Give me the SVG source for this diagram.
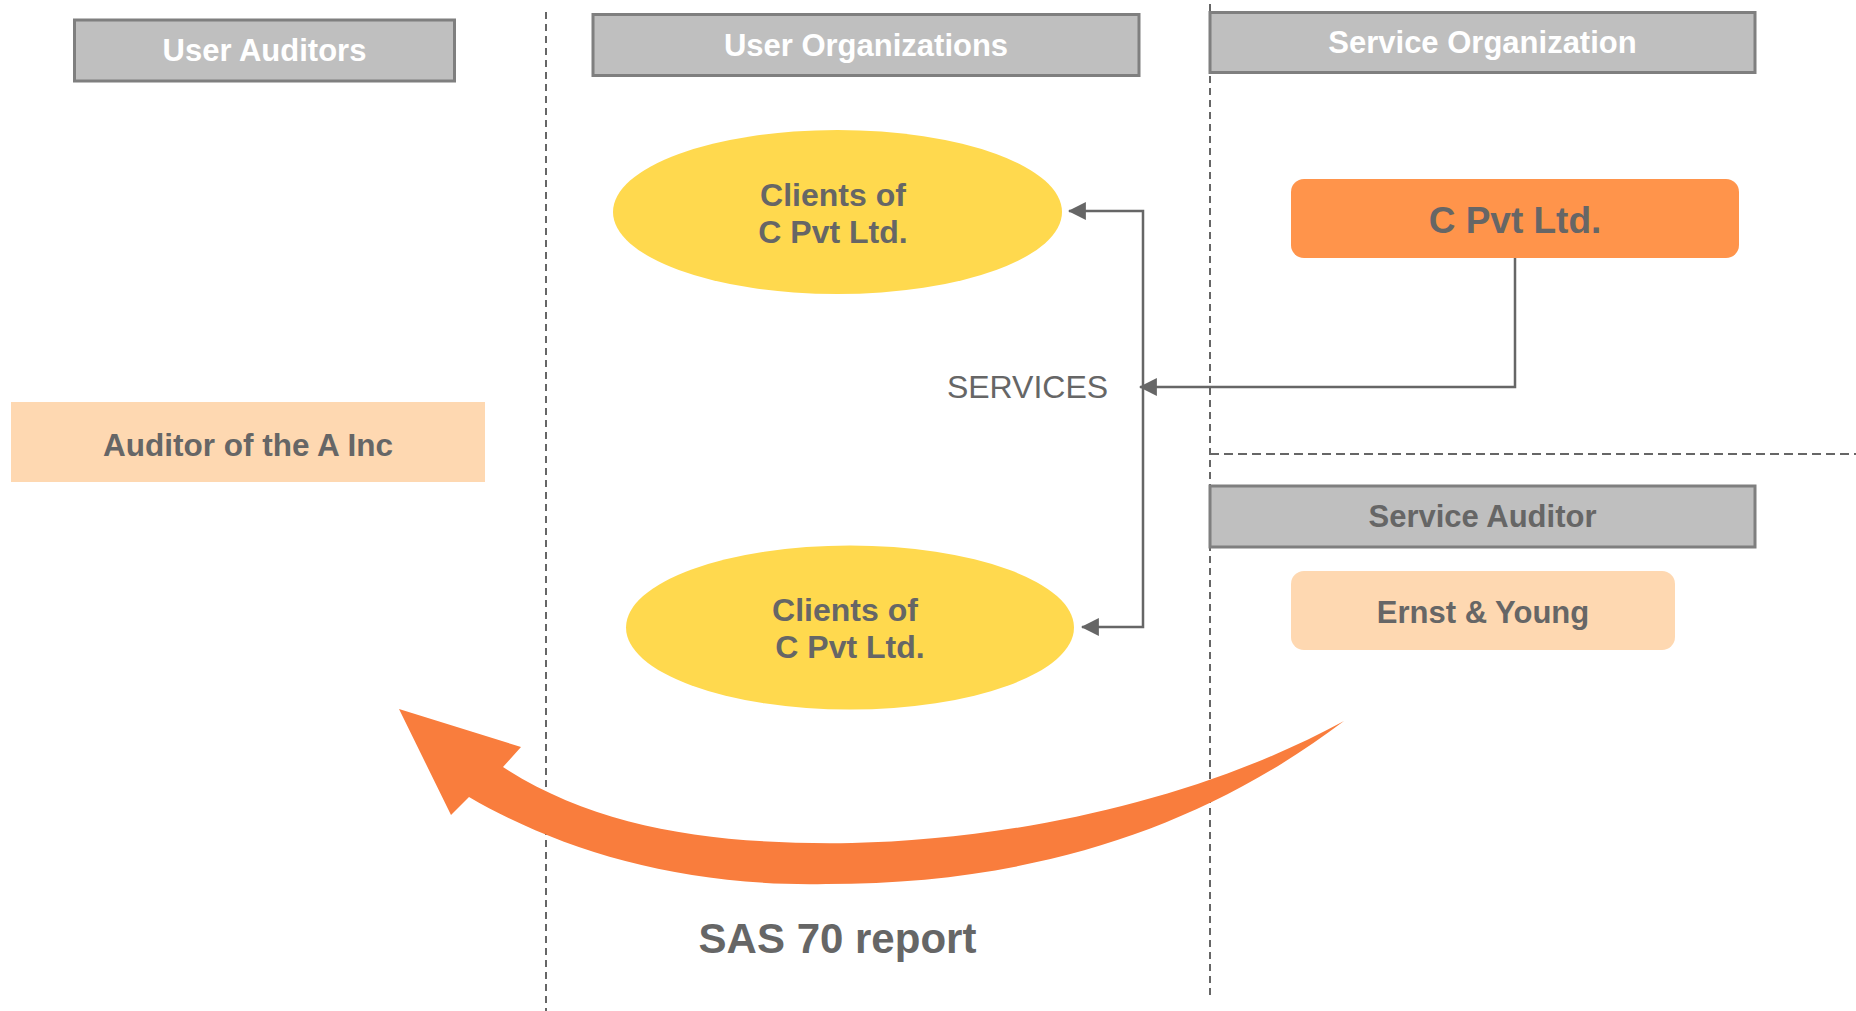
<svg xmlns="http://www.w3.org/2000/svg" width="1856" height="1011" viewBox="0 0 1856 1011">
  <style>
    .hdr { fill: #BFBFBF; stroke: #7F7F7F; stroke-width: 3; }
    .hdr-t { font-family: "Liberation Sans", Arial, sans-serif; font-weight: bold; font-size: 31px; fill: #FFFFFF; text-anchor: middle; }
    .lbl { font-family: "Liberation Sans", Arial, sans-serif; font-weight: bold; fill: #666666; text-anchor: middle; }
    .client { fill: #FFD94E; }
    .peach { fill: #FED8B1; }
    .divider { fill: none; stroke: #666666; stroke-width: 2; stroke-dasharray: 7 5; }
    .conn { fill: none; stroke: #666666; stroke-width: 2.5; }
  </style>
  <defs>
    <marker id="arrow" markerUnits="userSpaceOnUse" markerWidth="18" markerHeight="18" viewBox="0 0 16 16" refX="15" refY="8" orient="auto">
      <path d="M0,0 L16,8 L0,16 Z" fill="#666666"/>
    </marker>
  </defs>

  <rect width="1856" height="1011" fill="#FFFFFF"/>

  <!-- column / section dividers -->
  <g id="dividers">
    <line class="divider" x1="546" y1="12" x2="546" y2="1011"/>
    <line class="divider" x1="1210" y1="4" x2="1210" y2="1000"/>
    <line class="divider" x1="1210" y1="454" x2="1856" y2="454" style="stroke-dasharray: 9 5"/>
  </g>

  <!-- column headers -->
  <g id="hdr-user-auditors">
    <rect class="hdr" x="74.5" y="20" width="380" height="61"/>
    <text class="hdr-t" x="264.5" y="61">User Auditors</text>
  </g>
  <g id="hdr-user-orgs">
    <rect class="hdr" x="593" y="14.5" width="546" height="61"/>
    <text class="hdr-t" x="866" y="56">User Organizations</text>
  </g>
  <g id="hdr-service-org">
    <rect class="hdr" x="1210" y="12.5" width="545" height="60"/>
    <text class="hdr-t" x="1482.5" y="53">Service Organization</text>
  </g>
  <g id="hdr-service-auditor">
    <rect class="hdr" x="1210" y="486" width="545" height="61"/>
    <text class="lbl" x="1482.5" y="527" font-size="31">Service Auditor</text>
  </g>

  <!-- nodes -->
  <g id="auditor-a-inc">
    <rect class="peach" x="11" y="402" width="474" height="80"/>
    <text class="lbl" x="248" y="456" font-size="31.5">Auditor of the A Inc</text>
  </g>
  <g id="clients-1">
    <ellipse class="client" cx="837.5" cy="212" rx="224.5" ry="82"/>
    <text class="lbl" font-size="32"><tspan x="833" y="206">Clients of</tspan><tspan x="833" y="243">C Pvt Ltd.</tspan></text>
  </g>
  <g id="clients-2">
    <ellipse class="client" cx="850" cy="627.5" rx="224" ry="82"/>
    <text class="lbl" font-size="32"><tspan x="845" y="621">Clients of</tspan><tspan x="850" y="658">C Pvt Ltd.</tspan></text>
  </g>
  <g id="c-pvt-ltd">
    <rect x="1291" y="179" width="448" height="79" rx="13" fill="#FF944B"/>
    <text class="lbl" x="1515" y="233" font-size="37">C Pvt Ltd.</text>
  </g>
  <g id="ernst-young">
    <rect class="peach" x="1291" y="571" width="384" height="79" rx="13"/>
    <text class="lbl" x="1483" y="623" font-size="31">Ernst &amp; Young</text>
  </g>

  <!-- service flow connectors -->
  <g id="connectors">
    <path class="conn" d="M1515,258 V387 H1140" marker-end="url(#arrow)"/>
    <path class="conn" d="M1143,418 V211 H1069" marker-end="url(#arrow)"/>
    <path class="conn" d="M1143,418 V627 H1082" marker-end="url(#arrow)"/>
    <text x="1027.5" y="398" font-family="'Liberation Sans', Arial, sans-serif" font-size="32" fill="#666666" text-anchor="middle">SERVICES</text>
  </g>

  <!-- report hand-off arrow -->
  <g id="sas70-report">
    <path fill="#F97D3D" d="M399,709 L521,747 L503,767 C600,830 720,845 852,843 C1000,840 1190,805 1344,721 C1200,830 1030,884 826,884 C680,887 560,850 469,797 L451,815 Z"/>
    <text class="lbl" x="837.5" y="953" font-size="42">SAS 70 report</text>
  </g>
</svg>
